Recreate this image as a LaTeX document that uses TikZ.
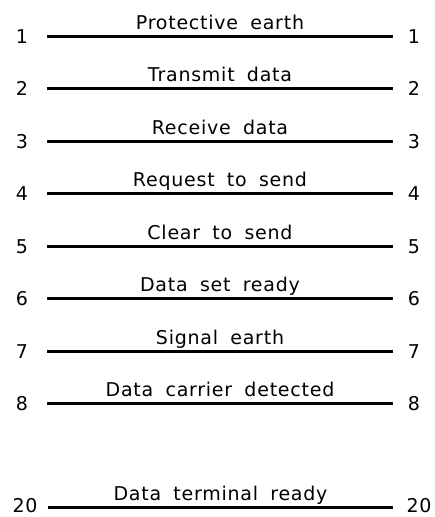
\documentclass[tikz,border=0pt]{standalone}
\usepackage{fontspec}
\setmainfont[LetterSpace=4,WordSpace=1.8]{DejaVu Sans}
\begin{document}
\begin{tikzpicture}[x=1pt,y=-1pt,
  wire/.style={line width=2.6pt},
  pin/.style={inner sep=0pt,anchor=center,font=\fontsize{19}{22}\selectfont},
  sig/.style={inner sep=0pt,anchor=base,yshift=7.5pt,font=\fontsize{19}{22}\selectfont}]
\useasboundingbox (0,0) rectangle (434,517);
\foreach \n/\y/\t in {1/36.5/Protective earth,2/88.5/Transmit data,3/141.5/Receive data,4/193.5/Request to send,5/246.5/Clear to send,6/298.5/Data set ready,7/351.5/Signal earth,8/403.5/Data carrier detected}{
  \coordinate (a\n) at (47,\y);
  \coordinate (b\n) at (393,\y);
  \node[pin] (l\n) at (22,\y) {\n};
  \node[pin] (r\n) at (414,\y) {\n};
  \draw[wire] (a\n) -- (b\n) node[sig,midway] (t\n) {\t};
}
\coordinate (a20) at (48,507.5);
\coordinate (b20) at (393,507.5);
\node[pin] (l20) at (25,506) {20};
\node[pin] (r20) at (419,506) {20};
\draw[wire] (a20) -- (b20) node[sig,midway] (t20) {Data terminal ready};
\end{tikzpicture}
\end{document}
